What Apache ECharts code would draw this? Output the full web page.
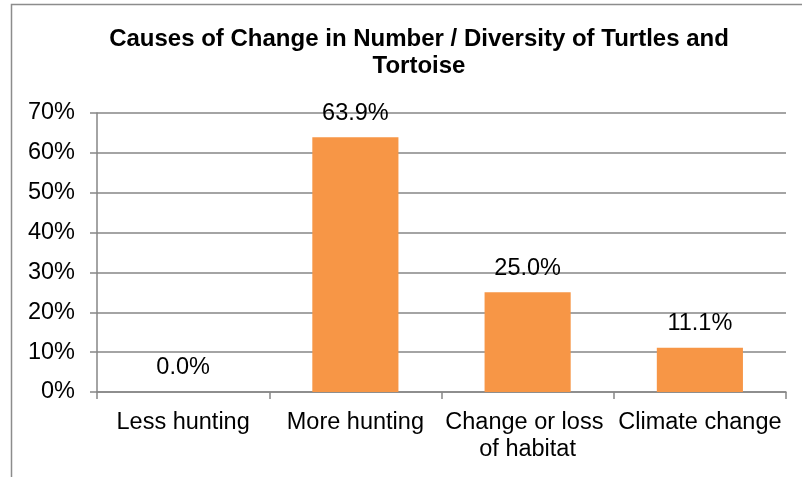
<!DOCTYPE html>
<html>
<head>
<meta charset="utf-8">
<script src="https://cdn.jsdelivr.net/npm/echarts@6/dist/echarts.min.js"></script>
<style>
    html, body { margin: 0; padding: 0; background: #fff; }
    #chart { width: 802px; height: 477px; }
</style>
</head>
<body>
<div id="chart"></div>
<script>
// 数据
var titleText = 'Causes of Change in Number / Diversity of Turtles and\nTortoise';
var categories = ['Less hunting', 'More hunting', 'Change or loss of habitat', 'Climate change'];
var values = [0.0, 63.9, 25.0, 11.1];
var yTicks = [0, 10, 20, 30, 40, 50, 60, 70];

(function() {
    var myChart = echarts.init(document.getElementById('chart'));
    var font = '"Liberation Sans", Arial, sans-serif';

    var option = {
        backgroundColor: '#fff',
        animation: false,
        title: {
            text: titleText,
            left: 414,
            top: 21,
            textAlign: 'center',
            textStyle: {
                fontFamily: font,
                fontSize: 24,
                fontWeight: 'bold',
                color: '#000',
                lineHeight: 27
            }
        },
        graphic: [{
            type: 'rect',
            shape: { x: 11.5, y: 4.5, width: 800, height: 480 },
            style: { fill: 'none', stroke: '#8c8c8c', lineWidth: 1.5 },
            silent: true
        }],
        grid: {
            left: 97,
            right: 16,
            top: 113,
            bottom: 85
        },
        xAxis: {
            type: 'category',
            data: categories,
            axisLine: { lineStyle: { color: '#868686', width: 1.5 } },
            axisTick: { show: true, length: 7, alignWithLabel: false, lineStyle: { color: '#868686', width: 1.5 } },
            axisLabel: {
                color: '#000',
                fontFamily: font,
                fontSize: 23.5,
                margin: 17,
                lineHeight: 27,
                width: 172,
                overflow: 'break',
                interval: 0
            }
        },
        yAxis: {
            type: 'value',
            min: yTicks[0],
            max: yTicks[yTicks.length - 1],
            interval: 10,
            axisLine: { show: true, lineStyle: { color: '#868686', width: 1.5 } },
            axisTick: { show: true, length: 7, lineStyle: { color: '#868686', width: 1.5 } },
            splitLine: { lineStyle: { color: '#868686', width: 1.5 } },
            axisLabel: {
                color: '#000',
                fontFamily: font,
                fontSize: 23.5,
                margin: 22,
                formatter: '{value}%'
            }
        },
        series: [{
            type: 'bar',
            data: values,
            barWidth: '50%',
            itemStyle: { color: '#F79646' },
            label: {
                show: true,
                position: 'top',
                distance: 12,
                color: '#000',
                fontFamily: font,
                fontSize: 23.5,
                formatter: function(p) {
                    return p.value.toFixed(1) + '%';
                }
            }
        }]
    };

    myChart.setOption(option);

    window.addEventListener('resize', function() {
        myChart.resize();
    })
})()
</script>
</body>
</html>
